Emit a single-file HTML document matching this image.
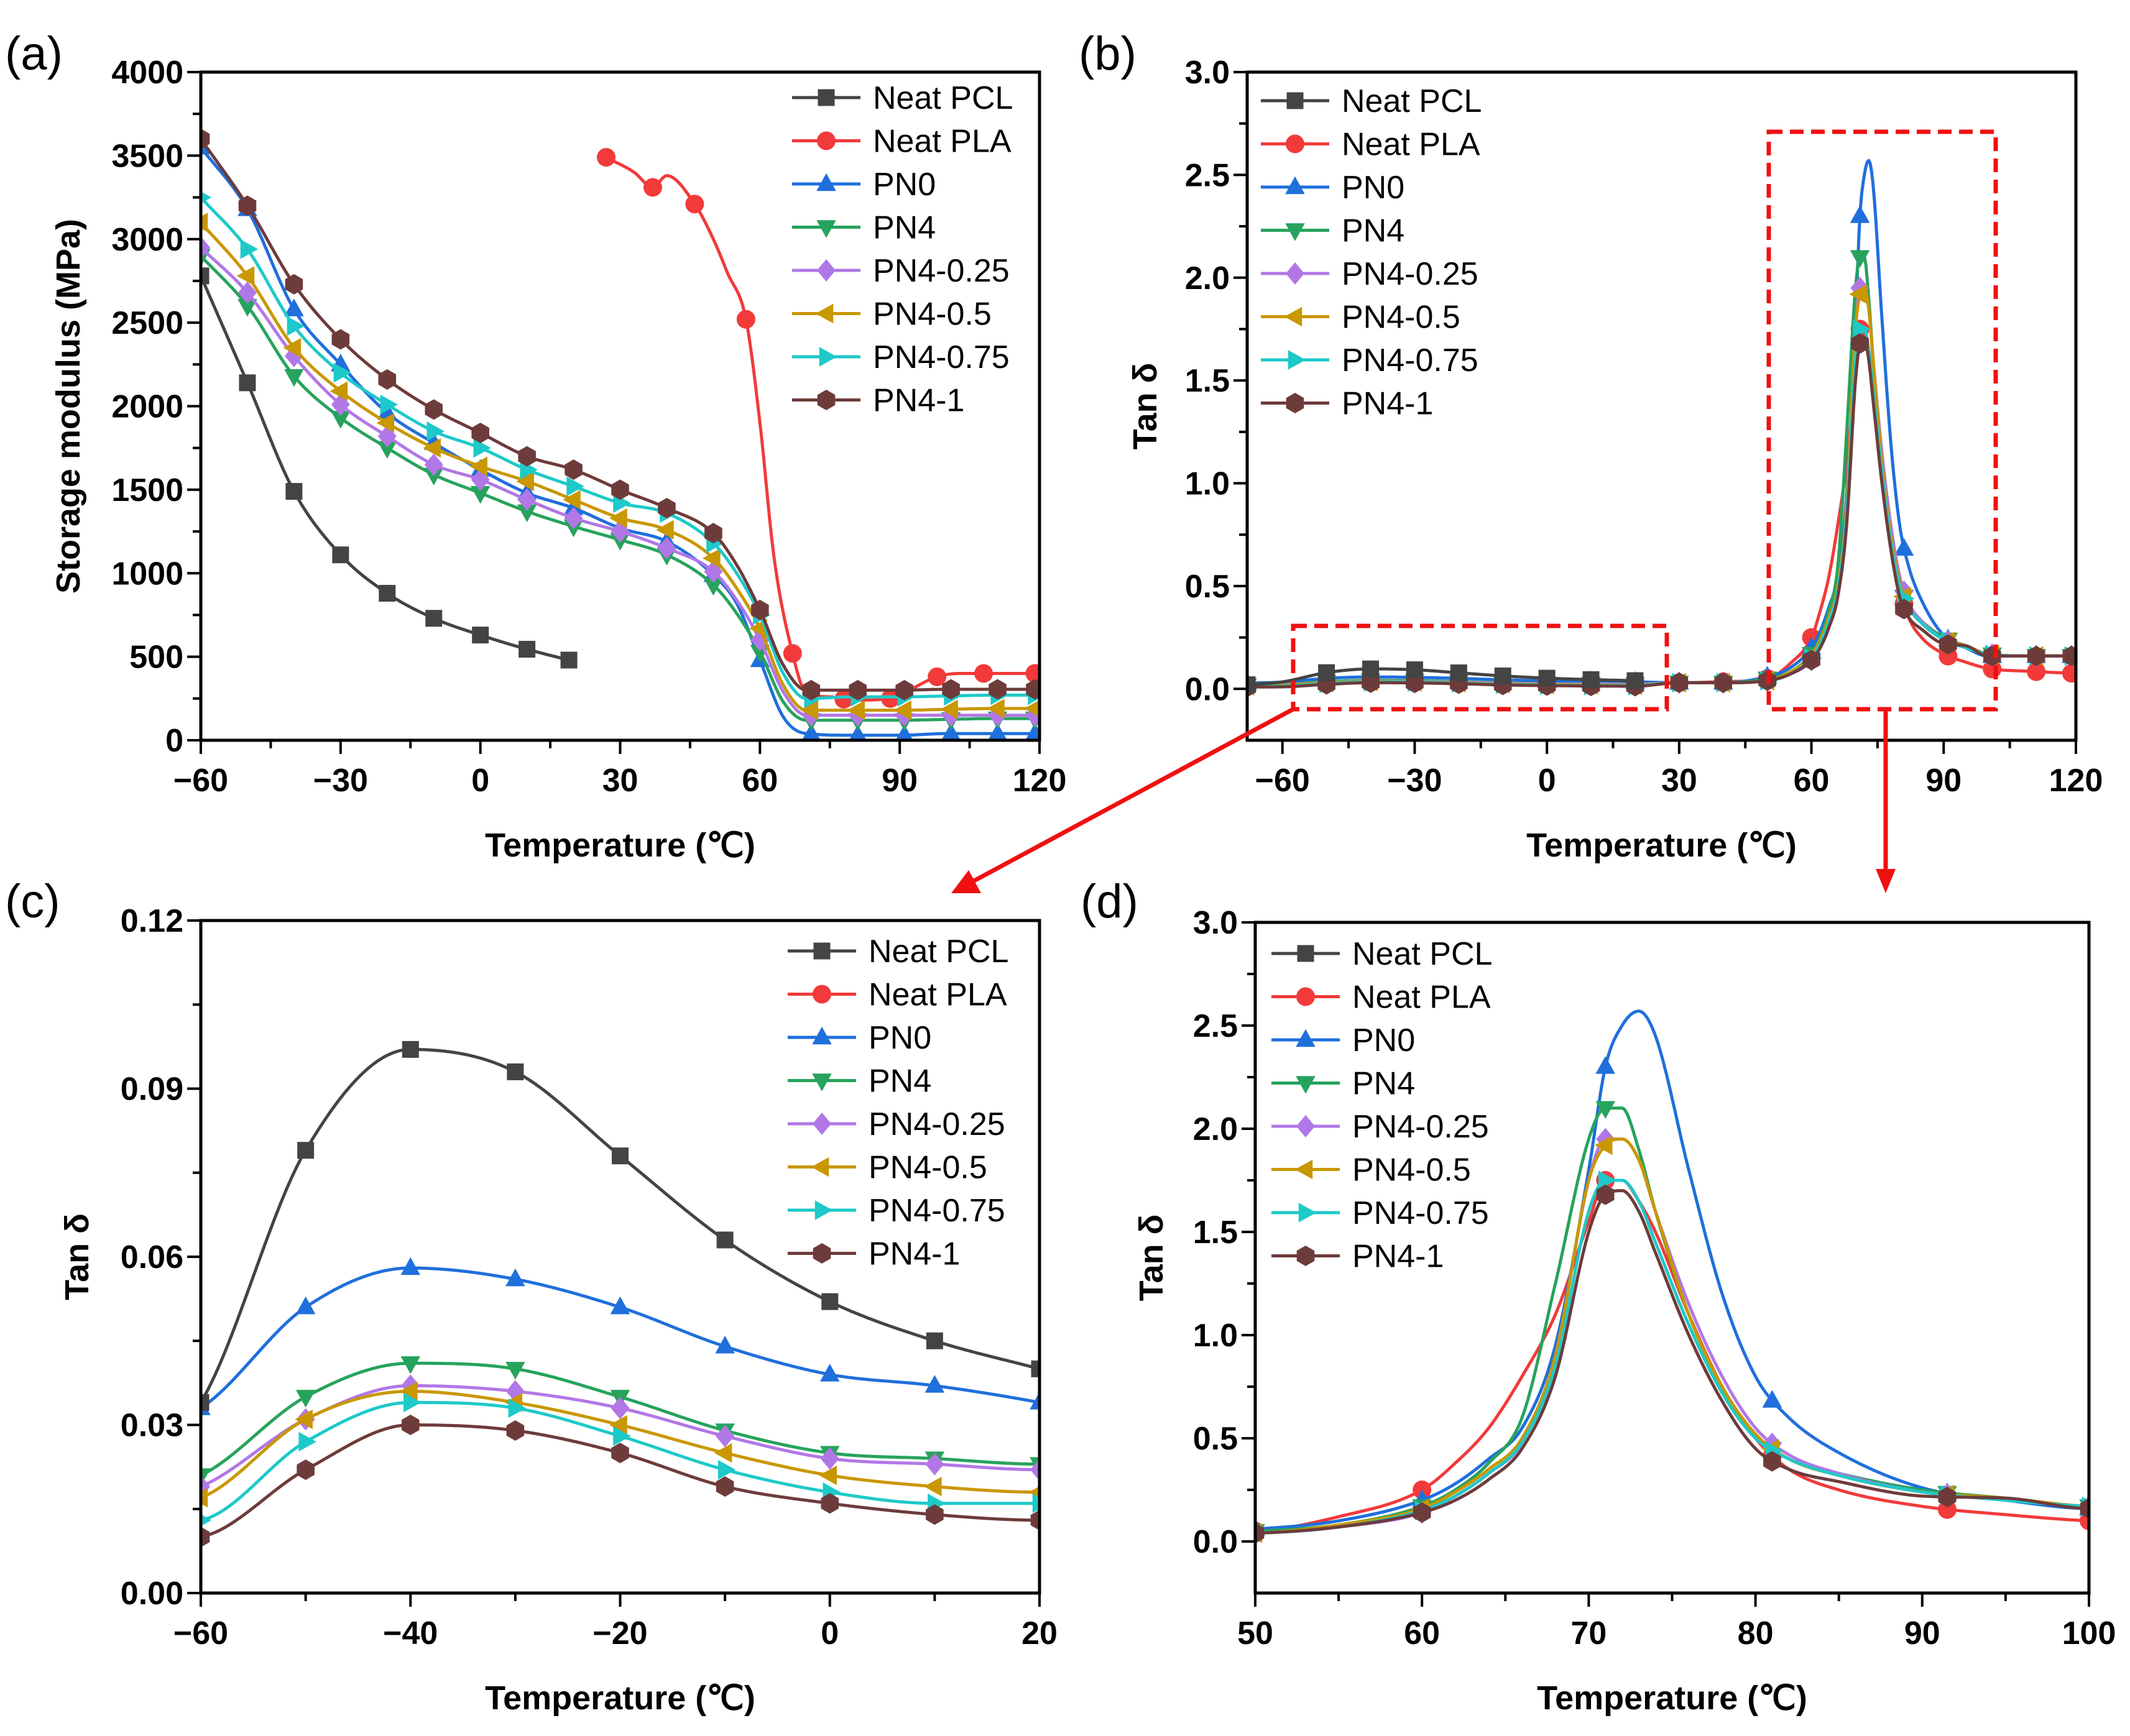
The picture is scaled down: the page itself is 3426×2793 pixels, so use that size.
<!DOCTYPE html>
<html><head><meta charset="utf-8"><style>
html,body{margin:0;padding:0;background:#fff}
svg{display:block}
text{font-family:"Liberation Sans",Arial,sans-serif}
</style></head><body>
<svg id="fig" width="3426" height="2793" viewBox="0 0 3426 2793" xmlns="http://www.w3.org/2000/svg"></svg>
<script>
// ---------- DATA ----------
const seriesNames = ["Neat PCL","Neat PLA","PN0","PN4","PN4-0.25","PN4-0.5","PN4-0.75","PN4-1"];
// Storage modulus (MPa)
const T_MOD = [-60,-50,-40,-30,-20,-10,0,10,20,30,40,50,55,60,65,70,80,90,100,110,120];
const T_MOD_PCL = [-60,-50,-40,-30,-20,-10,0,10,19];
const MOD_PCL = [2780,2140,1490,1110,880,730,630,545,480];
const T_MOD_PLA = [27,33,37,40,46,50,53,57,60,63,67,70,75,80,88,92,98,103,110,120];
const MOD_PLA = [3490,3400,3310,3380,3210,3000,2800,2520,1900,1100,520,280,260,240,250,300,380,400,400,400];
const MOD_PN0 = [3550,3180,2580,2250,1960,1780,1620,1480,1390,1270,1190,990,820,480,140,40,30,30,40,40,40];
const MOD_PN4 = [2900,2600,2180,1930,1750,1590,1480,1370,1280,1200,1110,930,760,530,230,120,120,120,125,130,130];
const MOD_PN4_025 = [2950,2680,2300,2010,1820,1650,1560,1440,1330,1250,1150,1010,840,600,290,150,150,150,150,150,150];
const MOD_PN4_05 = [3100,2780,2350,2090,1900,1750,1640,1550,1440,1330,1260,1090,910,670,330,180,180,180,185,190,190];
const MOD_PN4_075 = [3250,2940,2480,2200,2010,1850,1750,1620,1520,1420,1360,1180,1000,750,400,250,260,260,265,270,270];
const MOD_PN4_1 = [3600,3200,2730,2400,2160,1980,1840,1700,1620,1500,1390,1240,1050,780,450,300,300,300,305,305,305];
// Tan delta
const T_TAN = [-68,-60,-50,-40,-30,-20,-10,0,10,20,30,40,50,55,60,62,64,66,68,70,71,72,73,74,76,78,80,82,85,90,95,100,110,120];
const T_TAN_PCL = [-68,-60,-50,-40,-30,-20,-10,0,10,20];
const TAN_PCL = [0.02,0.034,0.079,0.097,0.093,0.078,0.063,0.052,0.045,0.040];
const T_TAN_PLA = [20,30,40,50,55,60,62,64,66,68,70,71,72,73,74,76,78,80,82,85,90,95,100,110,120];
const TAN_PLA = [0.033,0.03,0.035,0.05,0.12,0.25,0.38,0.55,0.8,1.1,1.55,1.75,1.75,1.65,1.5,1.1,0.75,0.5,0.35,0.25,0.17,0.13,0.1,0.085,0.075];
const TAN_PN0 = [0.028,0.033,0.051,0.058,0.056,0.051,0.044,0.039,0.037,0.034,0.03,0.03,0.06,0.1,0.2,0.28,0.4,0.55,0.95,1.8,2.3,2.5,2.57,2.45,1.8,1.2,0.8,0.6,0.43,0.26,0.2,0.16,0.16,0.16];
const TAN_PN4 = [0.018,0.021,0.035,0.041,0.040,0.035,0.029,0.025,0.024,0.023,0.03,0.03,0.05,0.08,0.17,0.25,0.38,0.6,1.25,1.95,2.1,2.1,1.9,1.6,1.1,0.75,0.52,0.4,0.33,0.25,0.21,0.17,0.16,0.16];
const TAN_PN4_025 = [0.016,0.019,0.031,0.037,0.036,0.033,0.028,0.024,0.023,0.022,0.03,0.03,0.04,0.07,0.14,0.22,0.33,0.48,0.9,1.75,1.95,1.95,1.85,1.6,1.15,0.8,0.55,0.42,0.33,0.24,0.21,0.17,0.16,0.16];
const TAN_PN4_05 = [0.015,0.017,0.031,0.036,0.034,0.030,0.025,0.021,0.019,0.018,0.03,0.03,0.04,0.08,0.16,0.24,0.35,0.5,0.9,1.75,1.92,1.95,1.85,1.6,1.1,0.75,0.52,0.4,0.32,0.24,0.21,0.17,0.16,0.16];
const TAN_PN4_075 = [0.012,0.013,0.027,0.034,0.033,0.028,0.022,0.018,0.016,0.016,0.03,0.03,0.04,0.07,0.15,0.22,0.33,0.48,0.85,1.6,1.75,1.75,1.65,1.45,1.05,0.72,0.5,0.4,0.32,0.24,0.2,0.17,0.16,0.16];
const TAN_PN4_1 = [0.009,0.010,0.022,0.030,0.029,0.025,0.019,0.016,0.014,0.013,0.03,0.03,0.04,0.07,0.14,0.2,0.3,0.45,0.8,1.5,1.68,1.7,1.6,1.4,1.0,0.68,0.45,0.35,0.29,0.22,0.21,0.16,0.16,0.16];
// tick labels
const TICKS_A_X = [-60,-30,0,30,60,90,120];
const TICKS_A_Y = [0,500,1000,1500,2000,2500,3000,3500,4000];
const TICKS_B_X = [-60,-30,0,30,60,90,120];
const TICKS_B_Y = ["0.0","0.5","1.0","1.5","2.0","2.5","3.0"];
const TICKS_C_X = [-60,-40,-20,0,20];
const TICKS_C_Y = ["0.00","0.03","0.06","0.09","0.12"];
const TICKS_D_X = [50,60,70,80,90,100];
const TICKS_D_Y = ["0.0","0.5","1.0","1.5","2.0","2.5","3.0"];

// ---------- STYLE ----------
const COLORS = ["#444444","#f23a3a","#1f6fdc","#26a35c","#b277e6","#c99700","#1ec9c9","#6e3b3b"];
const SHAPES = ["square","circle","up","down","diamond","left","right","hex"];
const NS="http://www.w3.org/2000/svg";
const svg=document.getElementById('fig');
function el(tag,attrs,parent){const e=document.createElementNS(NS,tag);for(const k in attrs)e.setAttribute(k,attrs[k]);(parent||svg).appendChild(e);return e;}
function txt(s,attrs,parent){const e=el('text',attrs,parent);e.textContent=s;return e;}

function monotone(xs,ys){
  const n=xs.length,d=[],m=new Array(n);
  for(let i=0;i<n-1;i++)d.push((ys[i+1]-ys[i])/(xs[i+1]-xs[i]));
  m[0]=d[0];m[n-1]=d[n-2];
  for(let i=1;i<n-1;i++){m[i]=(d[i-1]*d[i]<=0)?0:(d[i-1]+d[i])/2;}
  for(let i=0;i<n-1;i++){if(d[i]===0){m[i]=0;m[i+1]=0;continue;}const a=m[i]/d[i],b=m[i+1]/d[i],s=a*a+b*b;if(s>9){const t=3/Math.sqrt(s);m[i]=t*a*d[i];m[i+1]=t*b*d[i];}}
  return function(x){
    if(x<=xs[0])return ys[0]; if(x>=xs[n-1])return ys[n-1];
    let i=0;while(x>xs[i+1])i++;
    const h=xs[i+1]-xs[i],t=(x-xs[i])/h,t2=t*t,t3=t2*t;
    return (2*t3-3*t2+1)*ys[i]+(t3-2*t2+t)*h*m[i]+(-2*t3+3*t2)*ys[i+1]+(t3-t2)*h*m[i+1];
  };
}

function marker(g,shape,cx,cy,color,r){
  let e;
  if(shape==="square")e=el('rect',{x:cx-r*0.9,y:cy-r*0.9,width:r*1.8,height:r*1.8,fill:color},g);
  else if(shape==="circle")e=el('circle',{cx:cx,cy:cy,r:r,fill:color},g);
  else{
    let pts;
    if(shape==="up")pts=[[0,-1.15],[1.05,0.75],[-1.05,0.75]];
    else if(shape==="down")pts=[[0,1.15],[1.05,-0.75],[-1.05,-0.75]];
    else if(shape==="left")pts=[[-1.15,0],[0.75,-1.05],[0.75,1.05]];
    else if(shape==="right")pts=[[1.15,0],[-0.75,-1.05],[-0.75,1.05]];
    else if(shape==="diamond")pts=[[0,-1.2],[1.0,0],[0,1.2],[-1.0,0]];
    else {pts=[];for(let k=0;k<6;k++){const a=Math.PI/6+k*Math.PI/3;pts.push([Math.cos(a)*1.1,Math.sin(a)*1.1]);}}
    e=el('polygon',{points:pts.map(p=>(cx+p[0]*r)+","+(cy+p[1]*r)).join(" "),fill:color},g);
  }
  
  
  return e;
}

function panel(cfg){
  const g=el('g',{});
  
  
  const [x0,x1]=cfg.px,[y0,y1]=cfg.py;
  const sx=v=>x0+(v-cfg.xr[0])/(cfg.xr[1]-cfg.xr[0])*(x1-x0);
  const sy=v=>y1-(v-cfg.yr[0])/(cfg.yr[1]-cfg.yr[0])*(y1-y0);
  const cid='clip-'+cfg.name;
  const cp=el('clipPath',{id:cid},g);el('rect',{x:x0,y:y0,width:x1-x0,height:y1-y0},cp);
  const sg=el('g',{'clip-path':'url(#'+cid+')'},g);
  
  
  cfg.series.forEach(s=>{
    const f=monotone(s.t,s.v);
    const a=Math.max(s.t[0],cfg.xr[0]),b=Math.min(s.t[s.t.length-1],cfg.xr[1]);
    if(b<=a)return;
    const N=600;let d="";
    for(let k=0;k<=N;k++){const x=a+(b-a)*k/N;d+=(k?"L":"M")+sx(x).toFixed(1)+","+sy(f(x)).toFixed(1);}
    const line=el('path',{d:d,fill:"none",stroke:COLORS[s.i],'stroke-width':5,'stroke-linejoin':'round'},sg);
    
    
    (s.m||cfg.markers).forEach(mx=>{ if(mx<s.t[0]-0.01||mx>s.t[s.t.length-1]+0.01)return; marker(sg,SHAPES[s.i],sx(mx),sy(f(mx)),COLORS[s.i],15); });
  });
  const fr=el('rect',{x:x0,y:y0,width:x1-x0,height:y1-y0,fill:"none",stroke:"#000",'stroke-width':5},g);
  
  
  const tg=el('g',{stroke:"#000",'stroke-width':4},g);
  for(let v=cfg.xr0;v<=cfg.xr[1]+1e-9;v+=cfg.xminor){
    const major=Math.abs(((v-cfg.xr0)/cfg.xminor)%2)<1e-6;const X=sx(v);
    if(X<x0-1)continue;
    el('line',{x1:X,y1:y1,x2:X,y2:y1+(major?22:13)},tg);
  }
  for(let v=cfg.yr0;v<=cfg.yr[1]+1e-9;v+=cfg.yminor){
    const major=Math.abs(((v-cfg.yr0)/cfg.yminor)%2)<1e-6;const Y=sy(v);
    if(Y>y1+1)continue;
    el('line',{x1:x0,y1:Y,x2:x0-(major?22:13),y2:Y},tg);
  }
  cfg.xticks.forEach(v=>{const l=txt(String(v).replace('-','\u2212'),{x:sx(+v),y:y1+82,'text-anchor':'middle','font-size':52,'font-weight':'bold'},g);
    });
  cfg.yticks.forEach(v=>{const l=txt(String(v),{x:x0-28,y:sy(+v)+18,'text-anchor':'end','font-size':52,'font-weight':'bold'},g);
    });
  const xt=txt("Temperature (\u2103)",{x:(x0+x1)/2,y:cfg.xtitleY,'text-anchor':'middle','font-size':54,'font-weight':'bold'},g);
  
  const yt=txt(cfg.ytitle,{x:0,y:0,'text-anchor':'middle','font-size':54,'font-weight':'bold',transform:`translate(${cfg.ytitleX},${(y0+y1)/2}) rotate(-90)`},g);
  
  const pl=txt(cfg.label,{x:cfg.labelPos[0],y:cfg.labelPos[1],'font-size':76},g);
  
  const lg=el('g',{},g);
  
  seriesNames.forEach((n,i)=>{
    const yy=cfg.leg[1]+i*69.5;
    const le=el('g',{},lg);
    
    el('line',{x1:cfg.leg[0],y1:yy,x2:cfg.leg[0]+110,y2:yy,stroke:COLORS[i],'stroke-width':5},le);
    marker(le,SHAPES[i],cfg.leg[0]+55,yy,COLORS[i],15);
    txt(n,{x:cfg.leg[0]+130,y:yy+18,'font-size':52},le);
  });
}

const MOD=[MOD_PN0,MOD_PN4,MOD_PN4_025,MOD_PN4_05,MOD_PN4_075,MOD_PN4_1];
const TAN=[TAN_PN0,TAN_PN4,TAN_PN4_025,TAN_PN4_05,TAN_PN4_075,TAN_PN4_1];
const MK_PN_A=[-60,-50,-40,-30,-20,-10,0,10,20,30,40,50,60,71,81,91,101,111,119];
const MK_PLA_A=[27,37,46,57,67,78,88,98,108,119];
const modSeries=[{i:0,t:T_MOD_PCL,v:MOD_PCL,m:T_MOD_PCL},{i:1,t:T_MOD_PLA,v:MOD_PLA,m:MK_PLA_A}].concat(MOD.map((v,k)=>({i:k+2,t:T_MOD,v:v,m:MK_PN_A})));
const tanSeries=[{i:1,t:T_TAN_PLA,v:TAN_PLA}].concat(TAN.map((v,k)=>({i:k+2,t:T_TAN,v:v}))).concat([{i:0,t:T_TAN_PCL,v:TAN_PCL}]);
const tanSeriesD=[{i:0,t:T_TAN_PCL,v:TAN_PCL},{i:1,t:T_TAN_PLA,v:TAN_PLA}].concat(TAN.map((v,k)=>({i:k+2,t:T_TAN,v:v})));

panel({name:'panel-a-storage-modulus',px:[323,1672],py:[116,1191],xr:[-60,120],yr:[0,4000],xr0:-60,yr0:0,xminor:15,yminor:250,
  xticks:TICKS_A_X,yticks:TICKS_A_Y,ytitle:"Storage modulus (MPa)",ytitleX:128,xtitleY:1378,label:"(a)",labelPos:[8,112],leg:[1274,157],
  series:modSeries,markers:[]});
panel({name:'panel-b-tan-delta',px:[2006,3339],py:[116,1191],xr:[-68,120],yr:[-0.25,3],xr0:-60,yr0:0,xminor:15,yminor:0.25,
  xticks:TICKS_B_X,yticks:TICKS_B_Y,ytitle:"Tan \u03b4",ytitleX:1860,xtitleY:1378,label:"(b)",labelPos:[1735,112],leg:[2028,162],
  series:tanSeries,markers:[-68,-50,-40,-30,-20,-10,0,10,20,30,40,50,60,71,81,91,101,111,119]});
panel({name:'panel-c-tan-delta-low',px:[323,1672],py:[1481,2563],xr:[-60,20],yr:[0,0.12],xr0:-60,yr0:0,xminor:10,yminor:0.015,
  xticks:TICKS_C_X,yticks:TICKS_C_Y,ytitle:"Tan \u03b4",ytitleX:142,xtitleY:2750,label:"(c)",labelPos:[8,1476],leg:[1267,1530],
  series:tanSeries,markers:[-60,-50,-40,-30,-20,-10,0,10,20]});
panel({name:'panel-d-tan-delta-peak',px:[2019,3360],py:[1484,2563],xr:[50,100],yr:[-0.25,3],xr0:50,yr0:0,xminor:5,yminor:0.25,
  xticks:TICKS_D_X,yticks:TICKS_D_Y,ytitle:"Tan \u03b4",ytitleX:1870,xtitleY:2750,label:"(d)",labelPos:[1738,1476],leg:[2045,1534],
  series:tanSeriesD,markers:[50,60,71,81,91.5,100]});

const ann=el('g',{stroke:"#f01010",'stroke-width':7,fill:"none"});

const b1=el('rect',{x:2080,y:1007,width:601,height:134,'stroke-dasharray':'22 12'},ann);

const b2=el('rect',{x:2845,y:212,width:365,height:929,'stroke-dasharray':'22 12'},ann);

const a1=el('line',{x1:2080,y1:1141,x2:1565,y2:1418},ann);

const h1=el('polygon',{points:"1530,1437 1558,1400 1578,1437",fill:"#f01010",stroke:"none"},ann);

const a2=el('line',{x1:3033,y1:1141,x2:3033,y2:1400},ann);

const h2=el('polygon',{points:"3017,1398 3049,1398 3033,1437",fill:"#f01010",stroke:"none"},ann);

</script>
</body></html>
